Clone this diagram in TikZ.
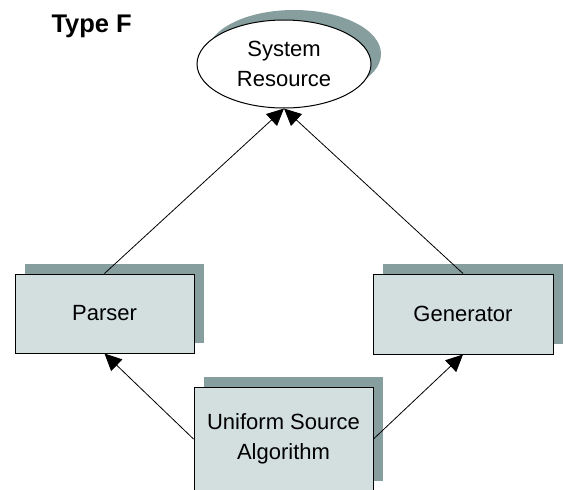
\documentclass[tikz,border=0pt]{standalone}
\usepackage{fontspec}
\setmainfont{Liberation Sans}
\usetikzlibrary{shapes.geometric,shadows,arrows.meta}
\definecolor{boxfill}{RGB}{211,222,222}
\definecolor{shadowcol}{RGB}{134,158,158}
\tikzset{
  shad/.style={general shadow={shadow xshift=10pt,shadow yshift=10pt,fill=shadowcol}},
  blockbox/.style={shad,draw=black,line width=1pt,fill=boxfill,rectangle,inner sep=0pt,
    align=center,font=\fontsize{22}{30}\selectfont},
  resource/.style={shad,draw=black,line width=1pt,fill=white,ellipse,inner sep=0pt,
    minimum width=174pt,minimum height=88pt,align=center,font=\fontsize{22}{30}\selectfont},
  conn/.style={draw=black,line width=0.8pt,-{Triangle[length=17pt,width=16pt]}}
}
\begin{document}
\begin{tikzpicture}[x=1pt,y=-1pt]
\useasboundingbox (0,0) rectangle (568,490);
\node[anchor=base west,font=\fontsize{25.5}{30}\selectfont\bfseries] (title) at (48,32) {Type F};
\node[resource] (sr) at (284,64) {System\\Resource};
\node[blockbox,minimum width=179pt,minimum height=79pt] (parser) at (104.5,313.5) {Parser};
\node[blockbox,minimum width=180pt,minimum height=80pt] (gen) at (463,314) {Generator};
\node[blockbox,minimum width=179pt,minimum height=104pt] (usa) at (283.5,439) {Uniform Source\\Algorithm};
\draw[conn] (parser.north) -- (sr.south);
\draw[conn] (gen.north) -- (sr.south);
\draw[conn] (usa.west) -- (parser.south);
\draw[conn] (usa.east) -- (gen.south);
\end{tikzpicture}
\end{document}
